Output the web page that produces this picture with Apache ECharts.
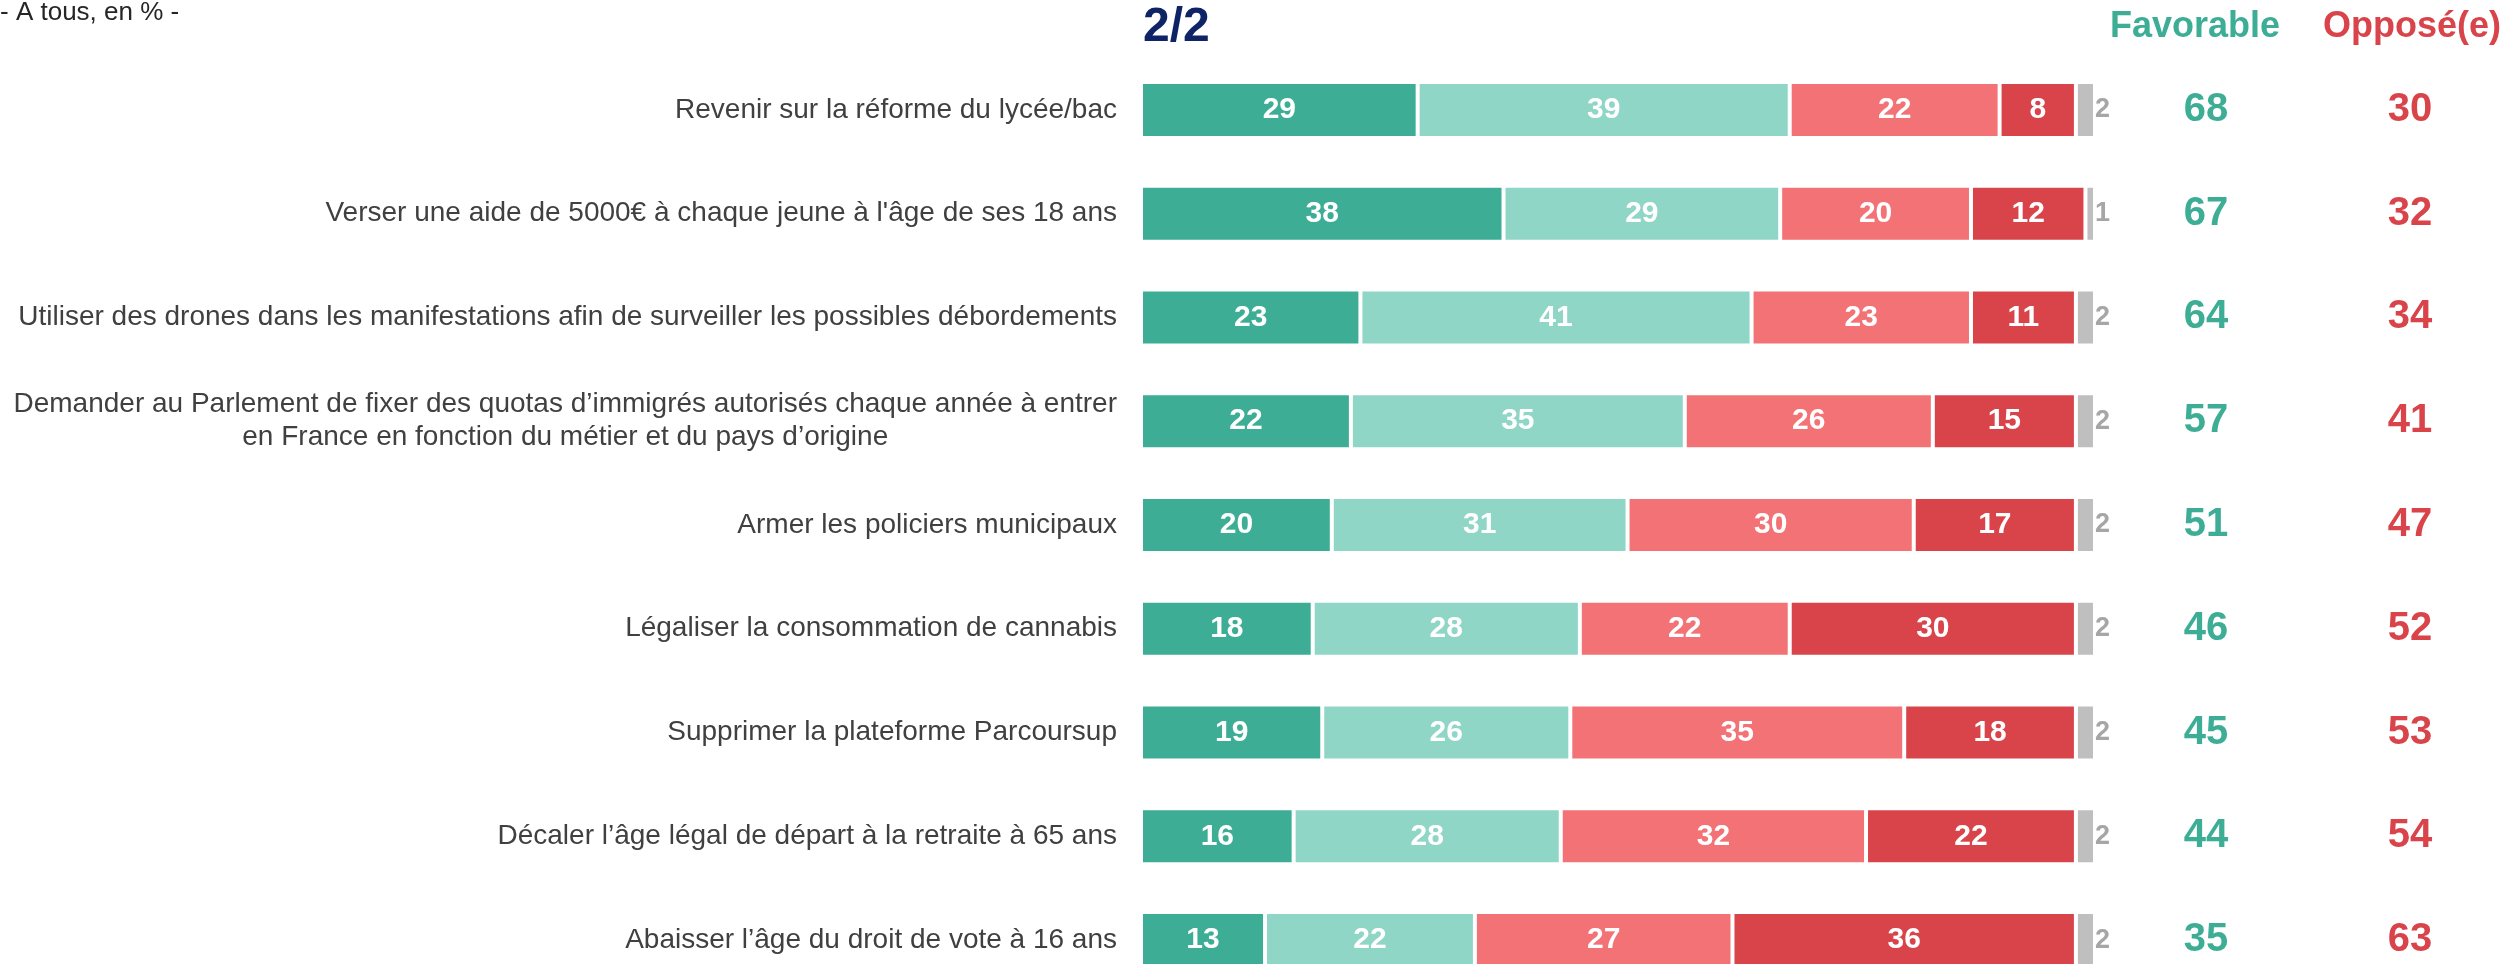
<!DOCTYPE html>
<html>
<head>
<meta charset="utf-8">
<script src="https://cdn.jsdelivr.net/npm/echarts@6/dist/echarts.min.js"></script>
<style>
  html, body { margin: 0; padding: 0; background: #fff; }
  #chart { width: 2514px; height: 964px; }
</style>
</head>
<body>
<div id="chart"></div>
<script>
const categories = [
  'Revenir sur la réforme du lycée/bac',
  "Verser une aide de 5000€ à chaque jeune à l'âge de ses 18 ans",
  'Utiliser des drones dans les manifestations afin de surveiller les possibles débordements',
  'Demander au Parlement de fixer des quotas d’immigrés autorisés chaque année à entrer\nen France en fonction du métier et du pays d’origine',
  'Armer les policiers municipaux',
  'Légaliser la consommation de cannabis',
  'Supprimer la plateforme Parcoursup',
  'Décaler l’âge légal de départ à la retraite à 65 ans',
  'Abaisser l’âge du droit de vote à 16 ans'
]
const tresFavorable = [29, 38, 23, 22, 20, 18, 19, 16, 13]
const plutotFavorable = [39, 29, 41, 35, 31, 28, 26, 28, 22]
const plutotOppose = [22, 20, 23, 26, 30, 22, 35, 32, 27]
const tresOppose = [8, 12, 11, 15, 17, 30, 18, 22, 36]
const nsp = [2, 1, 2, 2, 2, 2, 2, 2, 2]
const totalFavorable = [68, 67, 64, 57, 51, 46, 45, 44, 35]
const totalOppose = [30, 32, 34, 41, 47, 52, 53, 54, 63]

const FONT = '"Liberation Sans", Arial, sans-serif'
const TEAL = '#3dae95'
const RED = '#d9444b'

const chart = echarts.init(document.getElementById('chart'))

const segment = (name, data, color) => ({
  name,
  type: 'bar',
  stack: 'total',
  data,
  barWidth: 56,
  itemStyle: { color, borderColor: '#fff', borderWidth: 2 },
  label: {
    show: true,
    position: 'inside',
    color: '#fff',
    fontFamily: FONT,
    fontWeight: 'bold',
    fontSize: 30
  }
})

const option = {
  animation: false,
  textStyle: { fontFamily: FONT },
  grid: { left: 1141, right: 2514 - 2095, top: 58, bottom: -28, outerBoundsMode: 'none', containLabel: false },
  xAxis: { type: 'value', min: 0, max: 100, show: false },
  yAxis: [
    {
      type: 'category',
      inverse: true,
      data: categories,
      axisLine: { show: false },
      axisTick: { show: false },
      axisLabel: {
        margin: 24,
        align: 'right',
        formatter: v => v.split('\n').map(l => '{a|' + l + '}').join('\n'),
        rich: {
          a: { align: 'center', fontSize: 28, lineHeight: 33, color: '#404040', fontFamily: FONT }
        }
      }
    },
    {
      type: 'category',
      inverse: true,
      position: 'right',
      data: categories,
      axisLine: { show: false },
      axisTick: { show: false },
      axisLabel: {
        margin: 9,
        align: 'left',
        formatter: (v, i) => '{f|' + totalFavorable[i] + '}{o|' + totalOppose[i] + '}',
        rich: {
          f: { width: 204, align: 'center', color: TEAL, fontSize: 40, fontWeight: 'bold', fontFamily: FONT },
          o: { width: 204, align: 'center', color: RED, fontSize: 40, fontWeight: 'bold', fontFamily: FONT }
        }
      }
    }
  ],
  series: [
    segment('Très favorable', tresFavorable, TEAL),
    segment('Plutôt favorable', plutotFavorable, '#8fd6c7'),
    segment('Plutôt opposé', plutotOppose, '#f27275'),
    segment('Très opposé', tresOppose, RED),
    {
      name: 'NSP',
      type: 'bar',
      stack: 'total',
      data: nsp,
      barWidth: 56,
      itemStyle: { color: '#bfbfbf', borderColor: '#fff', borderWidth: 2 },
      label: {
        show: true,
        position: 'right',
        distance: 0,
        color: '#a6a6a6',
        fontFamily: FONT,
        fontWeight: 'bold',
        fontSize: 27
      }
    }
  ],
  graphic: [
    { type: 'text', left: 0, top: 0, style: { text: '- A tous, en % -', fontSize: 26, fill: '#262626', fontFamily: FONT } },
    { type: 'text', x: 1143, y: 28, style: { text: '2/2', fontSize: 48, fontWeight: 'bold', fill: '#0e2466', fontFamily: FONT, verticalAlign: 'middle' } },
    { type: 'text', x: 2195, y: 27, style: { text: 'Favorable', fontSize: 36, fontWeight: 'bold', fill: TEAL, fontFamily: FONT, align: 'center', verticalAlign: 'middle' } },
    { type: 'text', x: 2412, y: 27, style: { text: 'Opposé(e)', fontSize: 36, fontWeight: 'bold', fill: RED, fontFamily: FONT, align: 'center', verticalAlign: 'middle' } }
  ]
}

chart.setOption(option)
window.addEventListener('resize', () => chart.resize())
</script>
</body>
</html>
